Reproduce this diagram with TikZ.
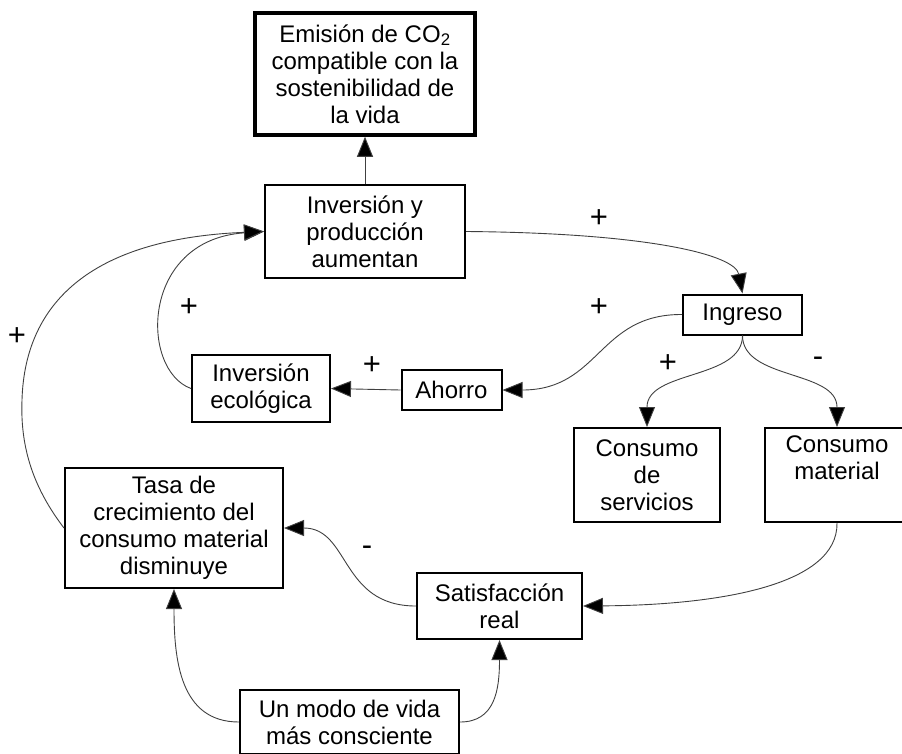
\documentclass[tikz,border=0pt]{standalone}
\usepackage{fontspec}
\setmainfont{Liberation Sans}
\usetikzlibrary{arrows.meta}
\begin{document}
\begin{tikzpicture}[x=1pt,y=-1pt,
  every node/.style={font=\fontsize{24}{27}\selectfont, inner sep=0pt, align=center},
  box/.style={draw=black, line width=2pt, rectangle, minimum width=#1},
  conn/.style={draw=black!75, line width=0.9pt, -{Triangle[length=20pt,width=16pt,fill=black]}},
  sign/.style={font=\fontsize{31}{31}\selectfont}]
\useasboundingbox (0,0) rectangle (902,753);

\node[box=220, line width=3.5pt, minimum height=122] (emis) at (365,74)
  {Emisión de CO\textsubscript{2}\\compatible con la\\sostenibilidad de\\la vida};
\node[box=200, minimum height=93] (inv) at (365,231.5) {Inversión y\\producción\\aumentan};
\node[box=119, minimum height=40] (ing) at (742.5,314.5) {Ingreso};
\node[box=100, minimum height=40] (aho) at (451.5,390) {Ahorro};
\node[box=138, minimum height=67] (ieco) at (261,388.5) {Inversión\\ecológica};
\node[box=146, minimum height=94] (cserv) at (647,475) {Consumo\\de\\servicios};
\node[box=144, minimum height=94] (cmat) at (837,475) {Consumo\\material\\\strut};
\node[box=218, minimum height=120] (tasa) at (174,528) {Tasa de\\crecimiento del\\consumo material\\disminuye};
\node[box=165, minimum height=66] (sat) at (499.5,606) {Satisfacción\\real};
\node[box=219, minimum height=64] (modo) at (349.5,722) {Un modo de vida\\más consciente};

\draw[conn] (inv.north) -- (emis.south);
\draw[conn] (inv.east) .. controls (650,233) and (735,255) .. (ing.north);
\draw[conn] (ing.west) .. controls (598,314) and (600,390) .. (aho.east);
\draw[conn] (ing.south) .. controls (742.5,380) and (647,370) .. (cserv.north);
\draw[conn] (ing.south) .. controls (742.5,380) and (837,370) .. (cmat.north);
\draw[conn] (aho.west) -- (ieco.east);
\draw[conn] (ieco.west) .. controls (140,370) and (140,240) .. (inv.west);
\coordinate (lp) at (22,400);
\draw[conn] (tasa.west) .. controls (35,490) and (20,450) .. (lp)
  .. controls (24,330) and (60,240) .. (inv.west);
\draw[conn] (cmat.south) .. controls (838,585) and (720,605) .. (sat.east);
\draw[conn] (sat.west) .. controls (340,606) and (350,528) .. (tasa.east);
\draw[conn] (modo.west) .. controls (180,722) and (174,660) .. (tasa.south);
\draw[conn] (modo.east) .. controls (495,722) and (499.5,690) .. (sat.south);

\node[sign] (s1) at (599,219) {+};
\node[sign] (s2) at (599,308) {+};
\node[sign] (s3) at (668,364) {+};
\node[sign] (s4) at (818,362) {-};
\node[sign] (s5) at (189,308) {+};
\node[sign] (s6) at (17,337) {+};
\node[sign] (s7) at (372,366) {+};
\node[sign] (s8) at (367,551) {-};
\end{tikzpicture}
\end{document}
